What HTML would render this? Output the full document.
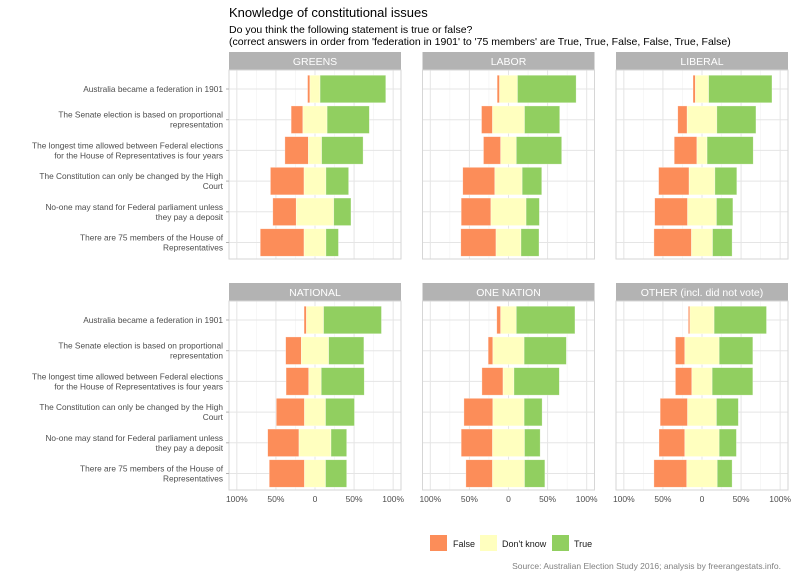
<!DOCTYPE html>
<html><head><meta charset="utf-8"><style>
html,body{margin:0;padding:0;background:#fff}
svg{display:block;font-family:"Liberation Sans",sans-serif}
</style></head><body>
<svg id="chart" width="794" height="578" viewBox="0 0 794 578" xmlns="http://www.w3.org/2000/svg">
<text x="229" y="17" font-size="13" fill="#000">Knowledge of constitutional issues</text>
<text x="229" y="33" font-size="10.5" fill="#000">Do you think the following statement is true or false?</text>
<text x="229" y="45" font-size="10.5" fill="#000">(correct answers in order from 'federation in 1901' to '75 members' are True, True, False, False, True, False)</text>
<g id="panels"></g>
<g>
<rect x="430" y="535" width="17" height="16" fill="#fc8d59"/>
<text x="453" y="547" font-size="9" fill="#1a1a1a">False</text>
<rect x="480" y="535" width="17" height="16" fill="#ffffbf"/>
<text x="502" y="547" font-size="9" fill="#1a1a1a">Don't know</text>
<rect x="552" y="535" width="17" height="16" fill="#91cf60"/>
<text x="574" y="547" font-size="9" fill="#1a1a1a">True</text>
</g>
<text x="781" y="569" font-size="8.5" fill="#808080" text-anchor="end">Source: Australian Election Study 2016; analysis by freerangestats.info.</text>
</svg>
<script>
const parties = ["GREENS","LABOR","LIBERAL","NATIONAL","ONE NATION","OTHER (incl. did not vote)"];
const questions = [
 ["Australia became a federation in 1901"],
 ["The Senate election is based on proportional","representation"],
 ["The longest time allowed between Federal elections","for the House of Representatives is four years"],
 ["The Constitution can only be changed by the High","Court"],
 ["No-one may stand for Federal parliament unless","they pay a deposit"],
 ["There are 75 members of the House of","Representatives"]
];
// percentages per party, per question
const falsePct = [
 [3,15,30,43,30,56],
 [3,14,22,41,38,45],
 [3,12,29,39,42,48],
 [3,20,29,36,40,45],
 [5,6,27,37,40,34],
 [2,12,21,35,33,42]
];
const dkPct = [
 [13,31,17,28,48,28],
 [23,41,20,35,45,32],
 [17,38,13,33,37,27],
 [22,35,16,27,41,27],
 [20,40,14,40,41,41],
 [31,44,26,37,44,39]
];
const truePct = [
 [84,54,53,29,22,16],
 [75,45,58,25,17,23],
 [81,50,59,28,21,25],
 [74,45,55,37,20,27],
 [75,54,58,23,20,26],
 [67,43,52,28,22,19]
];
const tickVals = [-100,-50,0,50,100];
const tickLabels = ["100%","50%","0","50%","100%"];
const minorVals = [-75,-25,25,75];

const NS = "http://www.w3.org/2000/svg";
const g = document.getElementById('panels');
function mk(tag, attrs, parent){const e=document.createElementNS(NS,tag);for(const k in attrs)e.setAttribute(k,attrs[k]);(parent||g).appendChild(e);return e;}
const colX = [229,422.5,616], panelW = 172;
const rowY = [52,283], stripH = 18, plotH = 189;
const scale = panelW/220; // px per percent, range -110..110
const rowStep = 30.7, barH = 27.5;

parties.forEach((p, pi) => {
  const px = colX[pi%3], py = rowY[Math.floor(pi/3)];
  const top = py + stripH;
  const cx = px + panelW/2;
  const xs = v => cx + v*scale;
  const ys = i => top + 19 + i*rowStep;
  const strip = mk('rect',{x:px,y:py,width:panelW,height:stripH,fill:'#b3b3b3'});
  
  
  const st = mk('text',{x:cx,y:py+13,'font-size':'10.5',fill:'#fff','text-anchor':'middle'});
  st.textContent = p;
  
  
  minorVals.forEach(v=>{const l=mk('line',{x1:xs(v),x2:xs(v),y1:top,y2:top+plotH,stroke:'#f2f2f2','stroke-width':0.6});
    });
  tickVals.forEach(v=>{const l=mk('line',{x1:xs(v),x2:xs(v),y1:top,y2:top+plotH,stroke:'#e5e5e5','stroke-width':1});
    });
  questions.forEach((q,qi)=>{const l=mk('line',{x1:px,x2:px+panelW,y1:ys(qi),y2:ys(qi),stroke:'#e5e5e5','stroke-width':1});
    });
  questions.forEach((q,qi)=>{
    const f=falsePct[pi][qi], d=dkPct[pi][qi], t=truePct[pi][qi];
    const y0 = ys(qi)-barH/2;
    const segs = [[-d/2-f,-d/2,'#fc8d59','bar-false'],[-d/2,d/2,'#ffffbf','bar-dont-know'],[d/2,d/2+t,'#91cf60','bar-true']];
    segs.forEach(s=>{const r=mk('rect',{x:xs(s[0]),y:y0,width:xs(s[1])-xs(s[0]),height:barH,fill:s[2],stroke:'#fff','stroke-opacity':0.5,'stroke-width':0.6});
      });
  });
  const b = mk('rect',{x:px,y:top,width:panelW,height:plotH,fill:'none',stroke:'#d6d6d6','stroke-width':1});
  
  if (pi>=3){
    tickVals.forEach((v,i)=>{const t=mk('text',{x:xs(v),y:top+plotH+12,'font-size':'8.5',fill:'#4d4d4d','text-anchor':'middle'});
      t.textContent=tickLabels[i];});
  }
  if (pi%3===0){
    questions.forEach((q,qi)=>{
      const tk=mk('line',{x1:px-3,x2:px,y1:ys(qi),y2:ys(qi),stroke:'#b3b3b3','stroke-width':1});
      
      const t=mk('text',{x:px-6,y:ys(qi)+(q.length===1?3:-2),'font-size':'8.3',fill:'#4d4d4d','text-anchor':'end'});
      
      q.forEach((line,li)=>{const ts=mk('tspan',{x:px-6,dy:li===0?0:10},t);ts.textContent=line;});
    });
  }
});
</script>
</body></html>
